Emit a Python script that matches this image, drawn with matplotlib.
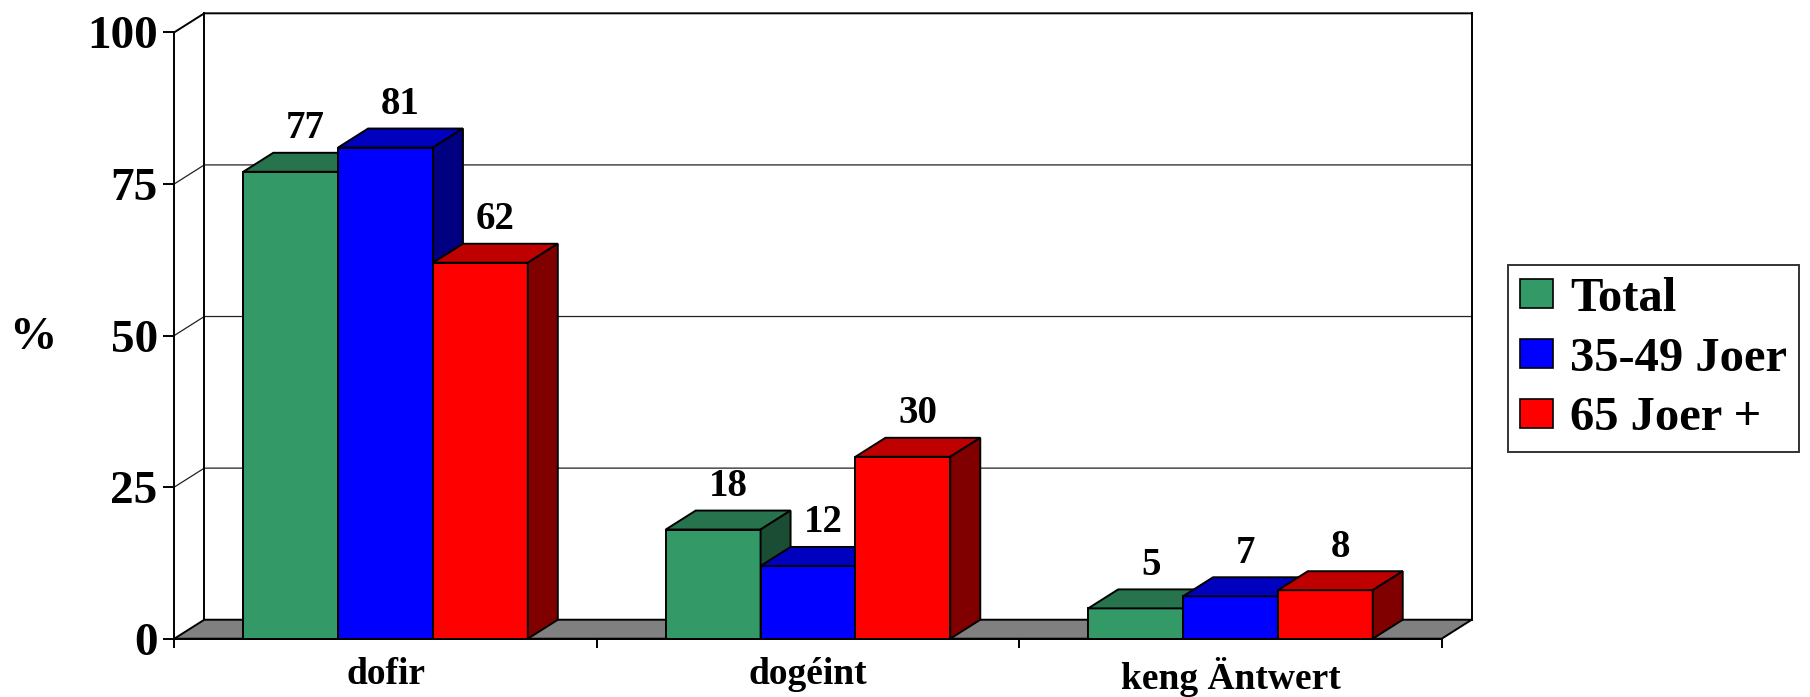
import matplotlib

matplotlib.use("Agg")
import matplotlib.pyplot as plt
from matplotlib.patches import Patch, Polygon, Rectangle
from matplotlib.colors import to_rgb

categories = ["dofir", "dogéint", "keng Äntwert"]
series_names = ["Total", "35-49 Joer", "65 Joer +"]
total = [77, 18, 5]
joer_35_49 = [81, 12, 7]
joer_65 = [62, 30, 8]
series_values = [total, joer_35_49, joer_65]
series_colors = ["#339966", "#0000ff", "#ff0000"]
y_ticks = [0, 25, 50, 75, 100]

# 3D look: depth offset in data units, bar width in category units
DX = 0.071
DY = 3.13
BAR_W = 0.2245
LW = 1.4


def shade(color, f):
    r, g, b = to_rgb(color)
    return (r * f, g * f, b * f)


plt.rcParams["font.family"] = ["Liberation Serif", "DejaVu Serif"]
plt.rcParams["font.weight"] = "bold"

fig = plt.figure(figsize=(18.10, 6.97), dpi=100)
W, H = 1810, 697
ax = fig.add_axes([174.3 / W, (H - 638.7) / H, (1441.7 - 174.3) / W, (638.7 - 32.3) / H])
n = len(categories)
ax.set_xlim(0, n)
ax.set_ylim(0, 100)
ax.patch.set_visible(False)

# back wall and gridlines
for v in y_ticks[1:-1]:
    ax.plot([0, DX, n + DX], [v, v + DY, v + DY], color="#222222", lw=0.9, clip_on=False, zorder=1)
ax.plot([0, DX, n + DX], [100, 100 + DY, 100 + DY], color="black", lw=LW, clip_on=False, zorder=1)
ax.plot([DX, DX], [DY, 100 + DY], color="black", lw=LW, clip_on=False, zorder=1)
ax.plot([n + DX, n + DX], [DY, 100 + DY], color="black", lw=LW, clip_on=False, zorder=1)

# floor
ax.add_patch(Polygon([(0, 0), (n, 0), (n + DX, DY), (DX, DY)], closed=True,
                     fc="#808080", ec="black", lw=LW, clip_on=False, zorder=2))

# bars
for ci in range(n):
    left0 = ci + 0.5 - 1.5 * BAR_W
    for si, vals in enumerate(series_values):
        v = vals[ci]
        c = series_colors[si]
        x0 = left0 + si * BAR_W
        x1 = x0 + BAR_W
        ax.add_patch(Rectangle((x0, 0), BAR_W, v, fc=c, ec="black", lw=LW, clip_on=False, zorder=3))
        ax.add_patch(Polygon([(x0, v), (x1, v), (x1 + DX, v + DY), (x0 + DX, v + DY)], closed=True,
                             fc=shade(c, 0.75), ec="black", lw=LW, clip_on=False, zorder=3))
        ax.add_patch(Polygon([(x1, 0), (x1, v), (x1 + DX, v + DY), (x1 + DX, DY)], closed=True,
                             fc=shade(c, 0.5), ec="black", lw=LW, clip_on=False, zorder=3))
        ax.annotate(f"{v}", (x0 + BAR_W / 2 + DX / 2, v + DY), xytext=(0, 4), textcoords="offset points",
                    ha="center", va="bottom", fontsize=28, fontweight="bold", zorder=5)

# axes
for side in ["top", "right"]:
    ax.spines[side].set_visible(False)
for side in ["left", "bottom"]:
    ax.spines[side].set_linewidth(LW)
    ax.spines[side].set_zorder(4)

ax.set_yticks(y_ticks)
ax.set_yticklabels([str(t) for t in y_ticks])
ax.tick_params(axis="y", direction="out", length=8, width=LW, pad=4, labelsize=34)
ax.set_xticks(range(n + 1))
ax.set_xticklabels([])
ax.tick_params(axis="x", which="major", direction="out", length=6.5, width=LW)
ax.set_xticks([i + 0.5 for i in range(n)], minor=True)
ax.set_xticklabels(categories, minor=True)
ax.tick_params(axis="x", which="minor", length=0, pad=13, labelsize=27)

ax.set_ylabel("%", rotation=0, fontsize=34, fontweight="bold", va="center", ha="center")
ax.yaxis.set_label_coords(-0.1115, 0.496)

handles = [Patch(fc=c, ec="black", lw=1.2) for c in series_colors]
leg = fig.legend(handles, series_names, loc="upper left", bbox_to_anchor=(1508 / W, 1 - 265 / H),
                 frameon=True, fancybox=False, edgecolor="black", borderaxespad=0,
                 prop={"family": "Liberation Serif", "weight": "bold", "size": 35},
                 handlelength=0.68, handleheight=0.54, handletextpad=0.35, labelspacing=0.32, borderpad=0.25)
leg.get_frame().set_linewidth(1.4)

fig.savefig("out.png", dpi=100, facecolor="white")
